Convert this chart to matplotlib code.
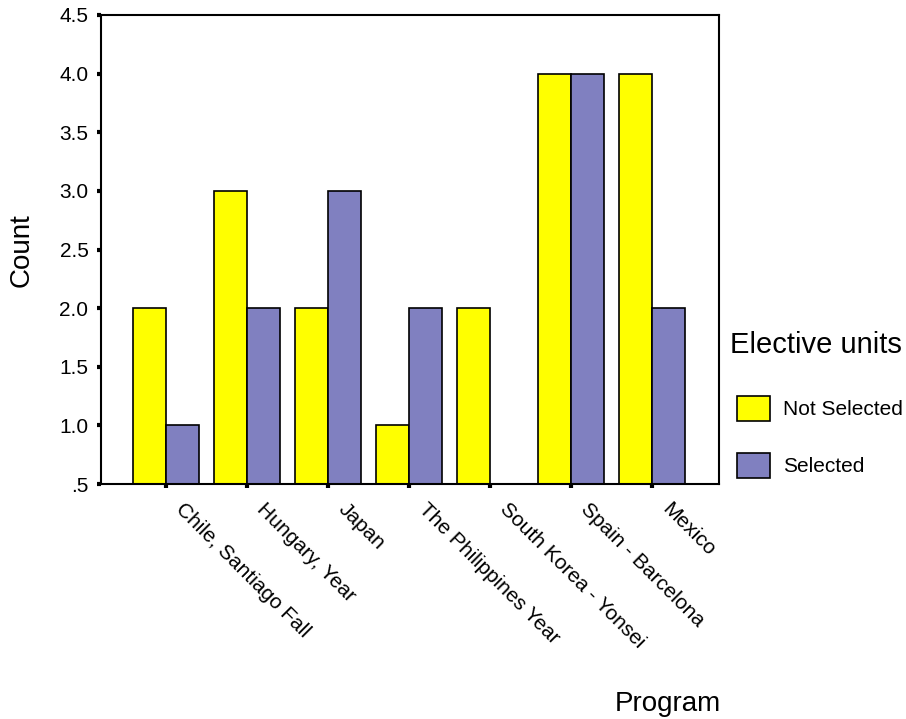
import matplotlib
matplotlib.use("Agg")
import matplotlib.pyplot as plt
import matplotlib.transforms as mtransforms
import numpy as np

plt.rcParams['font.family'] = ['Liberation Sans', 'DejaVu Sans']

programs = ["Chile, Santiago Fall", "Hungary, Year", "Japan", "The Philippines Year",
            "South Korea - Yonsei", "Spain - Barcelona", "Mexico"]
not_selected = [2, 3, 2, 1, 2, 4, 4]
selected = [1, 2, 3, 2, 0, 4, 2]
yticks = [0.5, 1.0, 1.5, 2.0, 2.5, 3.0, 3.5, 4.0, 4.5]
ytick_labels = [".5", "1.0", "1.5", "2.0", "2.5", "3.0", "3.5", "4.0", "4.5"]

fig = plt.figure(figsize=(9.06, 7.19), dpi=100)
ax = fig.add_axes([101/906, 1-484/719, (719-101)/906, (484-15)/719])

x = np.arange(len(programs))
w = 0.41
ax.bar(x - w/2, not_selected, w, color='#FFFF00', edgecolor='black', linewidth=1.2, label='Not Selected')
ax.bar(x + w/2, selected, w, color='#8080C0', edgecolor='black', linewidth=1.2, label='Selected')

ax.set_xlim(-0.80, 6.83)
ax.set_ylim(0.5, 4.5)
ax.set_yticks(yticks)
ax.set_yticklabels(ytick_labels, fontsize=15)
ax.set_xticks(x)
ax.set_xticklabels(programs, fontsize=15, rotation=-45, ha='left', va='top', rotation_mode='anchor')
ax.tick_params(axis='both', direction='out', length=3, width=3, color='black')
ax.tick_params(axis='x', pad=7)
ax.tick_params(axis='y', pad=6)
offset = mtransforms.ScaledTranslation(20/100, -2/100, fig.dpi_scale_trans)
for lbl in ax.get_xticklabels():
    lbl.set_transform(lbl.get_transform() + offset)
for s in ax.spines.values():
    s.set_linewidth(1.5)

fig.text(22/906, 1-250/719, "Count", rotation=90, fontsize=20, ha='center', va='center')
fig.text(668/906, 1-704/719, "Program", fontsize=20, ha='center', va='center')
fig.text(730/906, 1-345/719, "Elective units", fontsize=21, ha='left', va='center')

leg = fig.legend(loc='upper left', bbox_to_anchor=(737/906, 1-396/719), frameon=False,
                 fontsize=15, borderpad=0, borderaxespad=0,
                 handlelength=1.6, handleheight=1.45, labelspacing=1.55, handletextpad=0.6)

fig.savefig("out.png", dpi=100)
